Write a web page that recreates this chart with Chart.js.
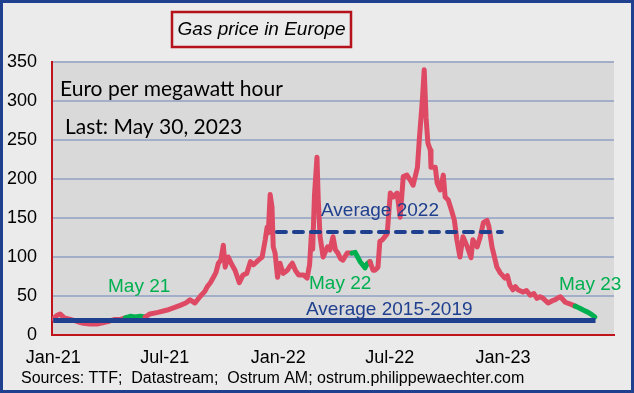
<!DOCTYPE html>
<html>
<head>
<meta charset="utf-8">
<script src="https://cdn.jsdelivr.net/npm/chart.js@4.4.0/dist/chart.umd.min.js"></script>
<style>
  html, body { margin: 0; padding: 0; background: #ebebeb; }
  #wrap { width: 634px; height: 393px; position: relative; }
</style>
</head>
<body>
<div id="wrap"><canvas id="gasChart" width="634" height="393"></canvas></div>
<script>
// days counted from 1 Jan 2021, TTF price in EUR/MWh
const dayIndex = [0,6,11,18,28,40,49,60,71,82,92,100,109,117,125,133,141,149,157,170,
  185,196,206,215,222,230,238,246,250,255,260,264,268,272,276,279,284,290,295,302,
  308,314,320,325,333,339,344,347,349,352,355,357,360,364,368,373,380,384,388,393,
  398,406,412,416,419,421,424,428,430,433,438,445,449,454,458,462,466,470,477,485,
  490,494,498,502,506,510,514,519,522,527,530,534,542,547,552,558,563,568,574,579,
  584,591,594,599,602,605,608,612,613,620,623,628,633,636,641,647,651,655,660,665,
  672,678,681,688,693,698,704,707,712,720,725,733,737,741,746,750,754,762,768,774,
  780,785,790,795,803,810,814,818,823,831,838,844,847,853,860,868,874,879];
const prices = [21,25,27,22,20,17,15,14,14,16,18,20,20,22,24,23,24,23,27,29,
  32,35,38,41,45,41,49,56,62,67,74,80,92,96,115,87,100,90,83,67,
  77,79,94,90,96,100,122,138,131,180,164,113,105,74,92,79,83,88,92,83,
  77,77,73,90,130,110,180,228,175,126,100,113,109,126,109,105,98,96,105,105,
  106,100,94,90,86,92,94,83,83,87,120,122,130,182,177,182,151,203,205,199,
  192,215,250,301,340,279,246,237,215,215,195,186,205,177,173,158,147,122,100,126,
  113,99,122,113,126,144,147,139,113,87,80,73,76,64,58,62,58,55,57,51,
  53,47,49,47,41,44,45,47,49,42,40,38,37,35,32,29,26,23];

// May periods shown in green
const greenRanges = [[117, 149], [485, 514], [847, 879]];

// reference averages
const avg2022Days = [363, 728];
const avg2022Value = 132;
const avgLongDays = [0, 880];
const avgLongValue = 18.5;

// x axis ticks
const tickDays = [0, 181, 365, 546, 730];
const tickLabels = ['Jan-21', 'Jul-21', 'Jan-22', 'Jul-22', 'Jan-23'];

const RED = 'rgb(222,74,100)';
const GREEN = '#00b050';
const NAVY = '#1f3f8f';
const AXIS_RED = '#c0141c';

function isGreen(a, b) {
  return greenRanges.some(r => a >= r[0] && b <= r[1]);
}

const decoPlugin = {
  id: 'deco',
  beforeDraw(chart) {
    const c = chart.ctx, a = chart.chartArea;
    c.save();
    c.fillStyle = '#ebebeb';
    c.fillRect(0, 0, chart.width, chart.height);
    c.fillStyle = '#d9d9d9';
    c.fillRect(a.left, a.top, a.right - a.left, a.bottom - a.top);
    c.restore();
  },
  afterDraw(chart) {
    const c = chart.ctx;
    c.save();
    // outer frame
    c.strokeStyle = NAVY;
    c.lineWidth = 3;
    c.strokeRect(1.5, 1.5, chart.width - 3, chart.height - 3);

    // title box
    c.strokeStyle = '#b5121b';
    c.lineWidth = 2.5;
    c.strokeRect(172, 12, 179, 35);
    c.fillStyle = '#000';
    c.font = 'italic 19px "Liberation Sans", Arial, sans-serif';
    c.textAlign = 'center';
    c.textBaseline = 'middle';
    c.fillText('Gas price in Europe', 261.5, 30);

    c.textAlign = 'left';
    c.font = '21px Lato, sans-serif';
    c.fillText('Euro per megawatt hour', 60, 89);
    c.fillText('Last: May 30, 2023', 65, 127);

    c.font = '19px "Liberation Sans", Arial, sans-serif';
    c.fillStyle = NAVY;
    c.fillText('Average 2022', 321, 211);
    c.fillText('Average 2015-2019', 306, 310);

    c.fillStyle = GREEN;
    c.fillText('May 21', 108, 287);
    c.fillText('May 22', 309, 284);
    c.fillText('May 23', 559, 285);

    c.fillStyle = '#000';
    c.font = '16px "Liberation Sans", Arial, sans-serif';
    c.fillText('Sources: TTF;  Datastream;  Ostrum AM; ostrum.philippewaechter.com', 21, 379);
    c.restore();
  }
};

const ctx = document.getElementById('gasChart');
new Chart(ctx, {
  type: 'line',
  data: {
    datasets: [
      {
        label: 'Average 2015-2019',
        data: avgLongDays.map(d => ({ x: d, y: avgLongValue })),
        borderColor: NAVY,
        borderWidth: 5,
        pointRadius: 0
      },
      {
        label: 'Average 2022',
        data: avg2022Days.map(d => ({ x: d, y: avg2022Value })),
        borderColor: NAVY,
        borderWidth: 4,
        borderDash: [9, 8],
        borderCapStyle: 'round',
        pointRadius: 0
      },
      {
        label: 'Gas price',
        data: dayIndex.map((d, i) => ({ x: d, y: prices[i] })),
        borderColor: RED,
        borderWidth: 5,
        borderJoinStyle: 'round',
        borderCapStyle: 'round',
        pointRadius: 0,
        segment: {
          borderColor: s => isGreen(s.p0.parsed.x, s.p1.parsed.x) ? GREEN : RED
        }
      }
    ]
  },
  plugins: [decoPlugin],
  options: {
    responsive: false,
    animation: false,
    layout: { padding: { top: 62, right: 20, left: 0, bottom: 0 } },
    plugins: {
      legend: { display: false },
      tooltip: { enabled: false }
    },
    scales: {
      x: {
        type: 'linear',
        min: -2,
        max: 910,
        afterFit: s => { s.height = 58; },
        afterBuildTicks: s => { s.ticks = tickDays.map(v => ({ value: v })); },
        grid: { display: false },
        border: { display: true, color: AXIS_RED, width: 2 },
        ticks: {
          color: '#000',
          padding: 4,
          maxRotation: 0,
          autoSkip: false,
          font: { family: '"Liberation Sans", Arial, sans-serif', size: 18 },
          callback: v => tickLabels[tickDays.indexOf(v)]
        }
      },
      y: {
        min: 0,
        max: 350,
        afterFit: s => { s.width = 52; },
        grid: { color: '#a3aec8', lineWidth: 2, drawTicks: false },
        border: { display: true, color: AXIS_RED, width: 2 },
        ticks: {
          stepSize: 50,
          color: '#000',
          padding: 15,
          font: { family: '"Liberation Sans", Arial, sans-serif', size: 18 }
        }
      }
    }
  }
});
</script>
</body>
</html>
